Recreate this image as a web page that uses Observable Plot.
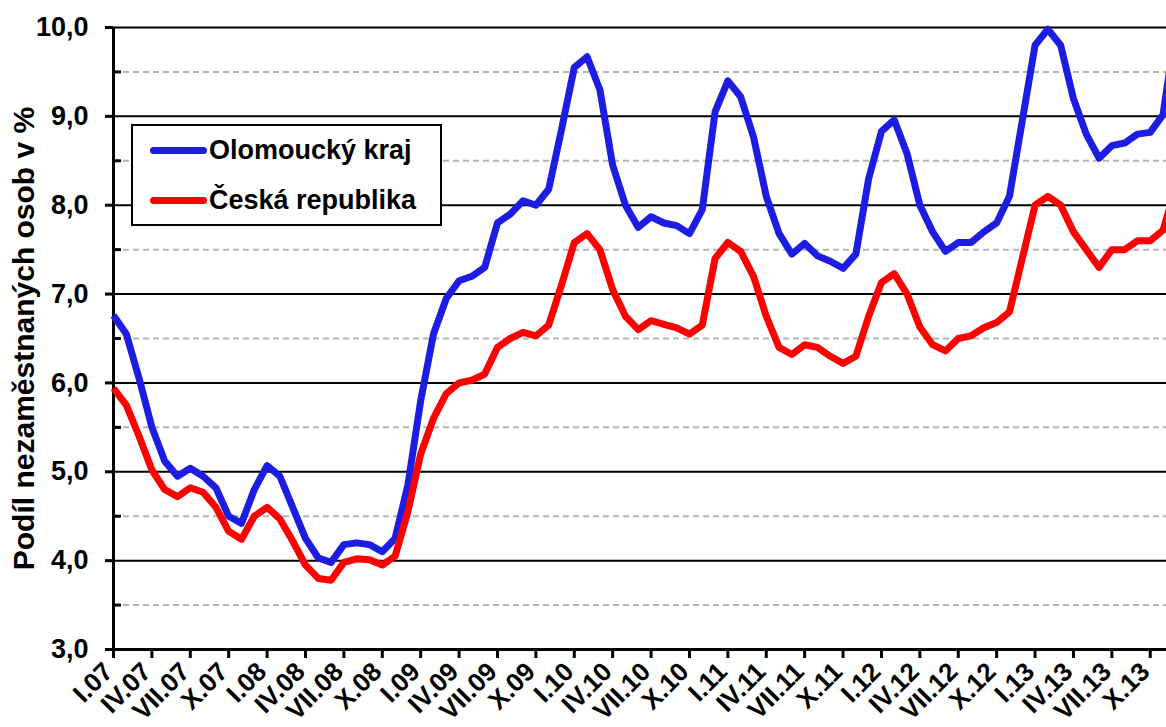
<!DOCTYPE html>
<html>
<head>
<meta charset="utf-8">
<script src="https://cdn.jsdelivr.net/npm/d3@7"></script>
<script src="https://cdn.jsdelivr.net/npm/@observablehq/plot@0.6"></script>
<style>
  html, body { margin: 0; padding: 0; background: #fff; overflow: hidden; }
  #wrap { position: relative; width: 1166px; height: 727px; font-family: "Liberation Sans", Arial, sans-serif; font-weight: bold; }
  .legend { position: absolute; left: 131px; top: 124px; width: 311px; height: 102px; box-sizing: border-box; border: 2px solid #000; background: #fff; }
  .sw { position: absolute; left: 17px; width: 57px; height: 7px; border-radius: 4px; }
  .lt { position: absolute; left: 76px; font-size: 27px; line-height: 27px; white-space: nowrap; color: #000; }
</style>
</head>
<body>
<div id="wrap"></div>
<script>
// Series names
const seriesNames = ["Olomoucký kraj", "Česká republika"];
const seriesColors = ["#1c1ce3", "#ff0000"];

// Tick labels (every third month, starting I.07)
const tickLabels = ["I.07","IV.07","VII.07","X.07","I.08","IV.08","VII.08","X.08",
  "I.09","IV.09","VII.09","X.09","I.10","IV.10","VII.10","X.10",
  "I.11","IV.11","VII.11","X.11","I.12","IV.12","VII.12","X.12",
  "I.13","IV.13","VII.13","X.13"];

// Monthly values I.07 ... XII.13 (%)
const olomoucky = [
  6.76, 6.55, 6.05, 5.50, 5.12, 4.95, 5.04, 4.95, 4.82, 4.50, 4.42, 4.80,
  5.07, 4.95, 4.60, 4.25, 4.03, 3.98, 4.18, 4.20, 4.18, 4.10, 4.25, 4.85,
  5.80, 6.55, 6.95, 7.15, 7.20, 7.30, 7.80, 7.90, 8.05, 8.00, 8.18, 8.85,
  9.55, 9.67, 9.30, 8.45, 8.00, 7.75, 7.87, 7.80, 7.77, 7.68, 7.95, 9.05,
  9.40, 9.22, 8.77, 8.10, 7.68, 7.45, 7.57, 7.43, 7.37, 7.29, 7.45, 8.30,
  8.83, 8.96, 8.58, 8.00, 7.70, 7.48, 7.58, 7.58, 7.70, 7.80, 8.10, 8.95,
  9.80, 9.98, 9.80, 9.20, 8.80, 8.53, 8.67, 8.70, 8.80, 8.82, 9.02, 10.00
];
const ceskaRepublika = [
  5.94, 5.75, 5.40, 5.02, 4.80, 4.72, 4.82, 4.77, 4.60, 4.33, 4.24, 4.50,
  4.60, 4.47, 4.22, 3.95, 3.80, 3.78, 3.98, 4.02, 4.01, 3.95, 4.05, 4.55,
  5.20, 5.60, 5.88, 6.00, 6.03, 6.10, 6.40, 6.50, 6.57, 6.53, 6.65, 7.10,
  7.58, 7.68, 7.50, 7.05, 6.75, 6.60, 6.70, 6.66, 6.62, 6.55, 6.65, 7.40,
  7.58, 7.48, 7.20, 6.75, 6.40, 6.32, 6.43, 6.40, 6.30, 6.22, 6.30, 6.75,
  7.13, 7.23, 7.00, 6.63, 6.43, 6.36, 6.50, 6.53, 6.62, 6.68, 6.80, 7.40,
  8.00, 8.10, 8.00, 7.70, 7.50, 7.30, 7.50, 7.50, 7.60, 7.60, 7.72, 8.20
];

// Y axis
const majorTicks = [3, 4, 5, 6, 7, 8, 9, 10];
const minorTicks = [3.5, 4.5, 5.5, 6.5, 7.5, 8.5, 9.5];
const yLabel = "Podíl nezaměstnaných osob v %";

const rows = [
  ...olomoucky.map((v, i) => ({ i, v, s: seriesNames[0] })),
  ...ceskaRepublika.map((v, i) => ({ i, v, s: seriesNames[1] }))
];
const tickIdx = tickLabels.map((_, k) => k * 3);

const chart = Plot.plot({
  width: 1166,
  height: 727,
  marginTop: 27,
  marginBottom: 78,
  marginLeft: 113,
  marginRight: 0,
  style: { fontFamily: '"Liberation Sans", Arial, sans-serif', fontSize: "27px", fontWeight: "bold", color: "#000", background: "#fff", overflow: "hidden" },
  x: { domain: [0, 82.27], axis: null },
  y: { domain: [3, 10], axis: null },
  color: { domain: seriesNames, range: seriesColors },
  marks: [
    Plot.ruleY(minorTicks, { stroke: "#b4b4b4", strokeWidth: 2, strokeDasharray: "6,4" }),
    Plot.ruleY(majorTicks.slice(1), { stroke: "#000", strokeWidth: 2 }),
    Plot.axisY({ ticks: majorTicks, tickSize: 8, tickPadding: 17, strokeWidth: 3,
      tickFormat: d => d.toFixed(1).replace(".", ","),
      label: null }),
    Plot.text([yLabel], { text: d => d, frameAnchor: "left", rotate: -90, dx: -89, fontSize: 30, fontWeight: "bold", textAnchor: "middle" }),
    Plot.axisY({ ticks: minorTicks, tickSize: 8, dx: 8, strokeWidth: 3, tickFormat: () => "", label: null }),
    Plot.axisX({ ticks: tickIdx, tickSize: 9, strokeWidth: 3, tickFormat: () => "", label: null }),
    Plot.text(tickIdx, { x: d => d, y: () => 3, text: k => tickLabels[k / 3],
      rotate: () => -45, textAnchor: "end", lineAnchor: "middle", dx: -5, dy: 18, fontSize: 26, fontWeight: "bold" }),
    Plot.ruleY([3], { stroke: "#000", strokeWidth: 3 }),
    Plot.ruleX([0], { stroke: "#000", strokeWidth: 3 }),
    Plot.lineY(rows, { x: "i", y: "v", z: "s", stroke: "s", strokeWidth: 7, strokeLinejoin: "round", strokeLinecap: "butt" })
  ]
});

const wrap = document.getElementById("wrap");
wrap.appendChild(chart);

// Legend (overlay inside plot area)
const legend = document.createElement("div");
legend.className = "legend";
const rowTops = [24, 74];
seriesNames.forEach((name, k) => {
  const sw = document.createElement("div");
  sw.className = "sw";
  sw.style.top = (rowTops[k] - 3.5) + "px";
  sw.style.background = seriesColors[k];
  const t = document.createElement("div");
  t.className = "lt";
  t.style.top = (rowTops[k] - 13) + "px";
  t.textContent = name;
  legend.appendChild(sw);
  legend.appendChild(t);
});
wrap.appendChild(legend);
</script>
</body>
</html>
